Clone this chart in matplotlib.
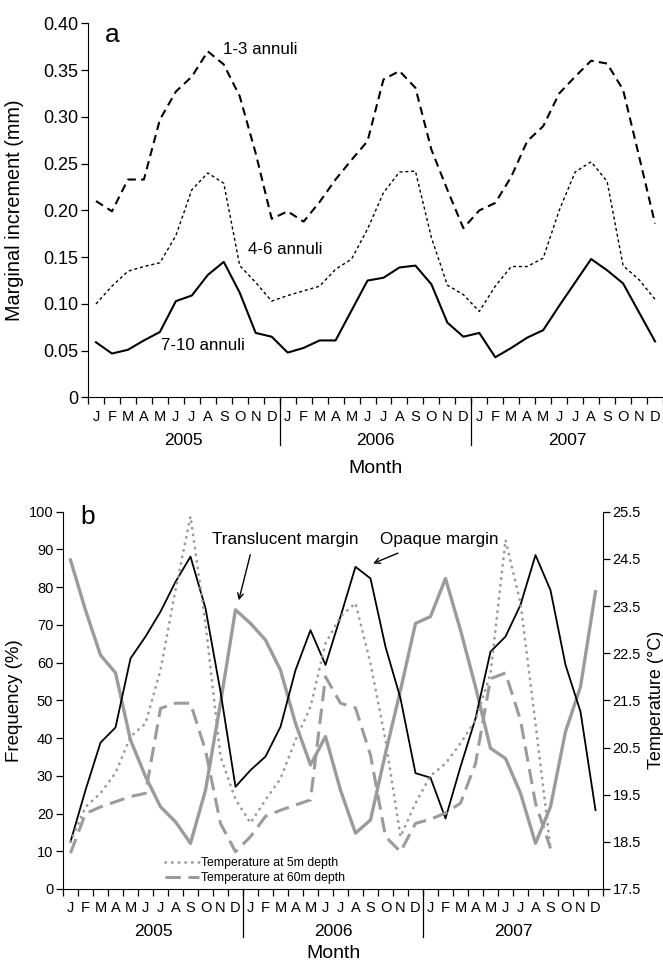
import numpy as np
import matplotlib
matplotlib.use('Agg')
import matplotlib.pyplot as plt

plt.rcParams['font.family'] = ['Liberation Sans Narrow', 'Liberation Sans', 'DejaVu Sans']

month_letters = ['J', 'F', 'M', 'A', 'M', 'J', 'J', 'A', 'S', 'O', 'N', 'D']
years = ['2005', '2006', '2007']

# panel a: marginal increment (mm), Jan 2005 - Dec 2007
ann_1_3 = [0.210, 0.199, 0.233, 0.233, 0.297, 0.327, 0.343, 0.370, 0.356, 0.322, 0.261, 0.191,
           0.199, 0.188, 0.209, 0.233, 0.254, 0.274, 0.340, 0.349, 0.331, 0.265, 0.222, 0.181,
           0.200, 0.208, 0.236, 0.274, 0.290, 0.325, 0.343, 0.360, 0.357, 0.329, 0.258, 0.186]
ann_4_6 = [0.100, 0.119, 0.135, 0.140, 0.144, 0.173, 0.222, 0.240, 0.229, 0.141, 0.123, 0.103,
           0.109, 0.114, 0.119, 0.137, 0.148, 0.180, 0.219, 0.241, 0.242, 0.171, 0.120, 0.110,
           0.092, 0.119, 0.140, 0.140, 0.149, 0.200, 0.241, 0.252, 0.231, 0.141, 0.126, 0.105]
ann_7_10 = [0.059, 0.047, 0.051, 0.061, 0.070, 0.103, 0.109, 0.131, 0.145, 0.112, 0.069, 0.065,
            0.048, 0.053, 0.061, 0.061, 0.093, 0.125, 0.128, 0.139, 0.141, 0.121, 0.080, 0.065,
            0.069, 0.043, 0.053, 0.064, 0.072, 0.098, 0.123, 0.148, 0.136, 0.122, 0.091, 0.060]

# panel b: frequency (%) of margin types
translucent = [87.2, 73.9, 62.0, 57.3, 39.5, 29.8, 21.8, 17.8, 12.1, 26.2, 49.3, 74.0,
               70.4, 66.0, 58.0, 43.9, 32.9, 40.4, 26.2, 14.8, 18.3, 36.0, 52.7, 70.4,
               72.2, 82.3, 68.6, 53.6, 37.3, 34.6, 25.4, 12.1, 21.8, 41.7, 53.6, 78.8]
opaque = [12.5, 26.2, 38.8, 42.8, 61.1, 66.9, 73.5, 81.4, 88.1, 74.4, 52.3, 27.1,
          31.5, 35.1, 43.0, 58.0, 68.6, 59.4, 72.2, 85.4, 82.3, 64.2, 50.5, 30.7,
          29.5, 18.7, 32.4, 45.2, 62.9, 66.9, 75.3, 88.5, 79.2, 59.4, 47.0, 20.9]
# temperature (deg C), Jan 2005 - Sep 2007
temp_5m = [18.50, 19.24, 19.53, 19.96, 20.73, 21.01, 22.14, 23.84, 25.40, 23.13, 20.31, 19.40,
           18.90, 19.39, 19.84, 20.66, 21.36, 22.71, 23.28, 23.56, 22.28, 20.66, 18.61, 19.32,
           19.90, 20.16, 20.59, 21.08, 22.06, 24.90, 23.56, 21.01, 18.36]
temp_60m = [18.26, 19.10, 19.24, 19.35, 19.46, 19.53, 21.33, 21.44, 21.44, 20.44, 18.89, 18.29,
            18.61, 19.04, 19.17, 19.28, 19.39, 22.00, 21.44, 21.34, 20.34, 18.61, 18.29, 18.89,
            18.98, 19.11, 19.32, 20.16, 21.96, 22.08, 21.08, 19.32, 18.36]

W, H = 663, 963
grey = '#9b9b9b'


def box(l, t, r, b):
    return [l / W, 1 - b / H, (r - l) / W, (b - t) / H]


def month_axis(ax, h_px, month_off):
    ax.set_xlim(0, 36)
    ax.set_xticks(range(37))
    ax.set_xticklabels([])
    ax.tick_params(axis='x', direction='out', length=5, width=0.9)
    tr = ax.get_xaxis_transform()
    for i in range(36):
        ax.annotate(month_letters[i % 12], (i + 0.5, 0), xycoords=tr, xytext=(0, -19.5 * 0.72),
                    textcoords='offset points', ha='center', va='center', fontsize=10.5)
    for k, yr in enumerate(years):
        ax.annotate(yr, (12 * k + 6, 0), xycoords=tr, xytext=(0, -43 * 0.72),
                    textcoords='offset points', ha='center', va='center', fontsize=12.5)
    for k in (12, 24):
        ax.plot([k, k], [0, -48 / h_px], transform=tr, clip_on=False, color='k', lw=0.9)
    ax.annotate('Month', (18, 0), xycoords=tr, xytext=(0, -month_off * 0.72),
                textcoords='offset points', ha='center', va='center', fontsize=14)


fig = plt.figure(figsize=(6.63, 9.63), dpi=100)
x = np.arange(36) + 0.5

# ---- panel a
axa = fig.add_axes(box(88, 23.3, 663, 397.5))
axa.plot(x, ann_1_3, color='k', lw=1.5, dashes=(4, 2.5))
axa.plot(x, ann_4_6, color='k', lw=1.0, dashes=(2.2, 2))
axa.plot(x, ann_7_10, color='k', lw=1.5)
axa.set_ylim(0, 0.40)
yt = np.arange(0, 0.401, 0.05)
axa.set_yticks(yt)
axa.set_yticklabels(['0'] + ['%.2f' % v for v in yt[1:]])
axa.tick_params(axis='y', direction='out', length=5, width=0.9, labelsize=13, pad=2)
for s in ('top', 'right'):
    axa.spines[s].set_visible(False)
month_axis(axa, 374.2, 71)
axa.set_ylabel('Marginal increment (mm)', fontsize=14.3)
axa.yaxis.set_label_coords(-0.111, 0.5)
axa.text(1.06, 0.388, 'a', fontsize=19, ha='left', va='center')
axa.text(8.44, 0.372, '1-3 annuli', fontsize=12.2, ha='left', va='center')
axa.text(10.0, 0.158, '4-6 annuli', fontsize=12.2, ha='left', va='center')
axa.text(4.56, 0.056, '7-10 annuli', fontsize=12.2, ha='left', va='center')

# ---- panel b
axb = fig.add_axes(box(63, 511.7, 603, 889))
axb.plot(x, translucent, color=grey, lw=2.4)
axb.plot(x, opaque, color='k', lw=1.3)
axb.set_ylim(0, 100)
axb.set_yticks(range(0, 101, 10))
axb.tick_params(axis='y', direction='out', length=5, width=0.9, labelsize=10.5, pad=2)
for s in ('top', 'right'):
    axb.spines[s].set_visible(False)
month_axis(axb, 377.3, 64)
axb.set_ylabel('Frequency (%)', fontsize=13.5)
axb.yaxis.set_label_coords(-0.074, 0.5)
axb.text(1.13, 98.6, 'b', fontsize=19, ha='left', va='center')

tw = axb.twinx()
tw.plot(x[:len(temp_5m)], temp_5m, color=grey, lw=2.0, dashes=(0.1, 2.3),
        dash_capstyle='round', label='Temperature at 5m depth')
tw.plot(x[:len(temp_60m)], temp_60m, color=grey, lw=2.2, dashes=(5, 2.5),
        label='Temperature at 60m depth')
tw.set_ylim(17.5, 25.5)
tt = np.arange(17.5, 25.51, 1.0)
tw.set_yticks(tt)
tw.set_yticklabels(['%.1f' % v for v in tt])
tw.tick_params(axis='y', direction='out', length=5, width=0.9, labelsize=10.5, pad=2)
for s in ('top', 'left', 'bottom'):
    tw.spines[s].set_visible(False)
tw.set_ylabel('Temperature (\u00b0C)', fontsize=13)
tw.yaxis.set_label_coords(1.083, 0.5)
tw.legend(loc='lower left', bbox_to_anchor=(0.189, 0.012), frameon=False, fontsize=8.8,
          handlelength=2.8, handletextpad=0.1, borderpad=0, labelspacing=0.25, borderaxespad=0)

axb.text(9.93, 92.5, 'Translucent margin', fontsize=12.3, ha='left', va='center')
axb.text(21.13, 92.5, 'Opaque margin', fontsize=12.3, ha='left', va='center')
axb.annotate('', xy=(11.67, 75.8), xytext=(12.53, 89.3),
             arrowprops=dict(arrowstyle='->', color='k', lw=1.0))
axb.annotate('', xy=(20.5, 86.0), xytext=(22.5, 89.3),
             arrowprops=dict(arrowstyle='->', color='k', lw=1.0))

fig.savefig('out.png', dpi=100)
